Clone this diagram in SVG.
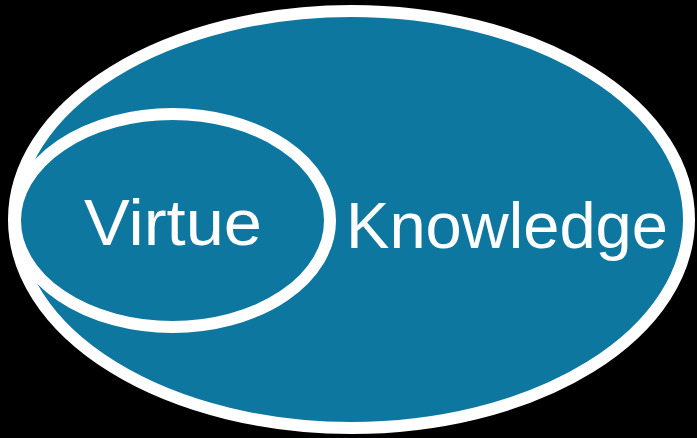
<svg xmlns="http://www.w3.org/2000/svg" width="697" height="438" viewBox="0 0 697 438">
<style>
.ell{fill:#0e77a0;stroke:#ffffff;stroke-width:12}
.lbl{fill:#ffffff;font-family:"Liberation Sans",Arial,sans-serif;font-size:64px}
</style>
<rect width="697" height="438" fill="#000000"/>
<g id="knowledge">
<ellipse class="ell" cx="351.5" cy="219.5" rx="337.5" ry="208.5"/>
<text class="lbl" x="346" y="248" textLength="322" lengthAdjust="spacingAndGlyphs">Knowledge</text>
</g>
<g id="virtue">
<ellipse class="ell" cx="172.5" cy="220.5" rx="157.5" ry="106.5"/>
<text class="lbl" x="84" y="245" textLength="178" lengthAdjust="spacingAndGlyphs">Virtue</text>
</g>
<g id="connectors"/>
</svg>
